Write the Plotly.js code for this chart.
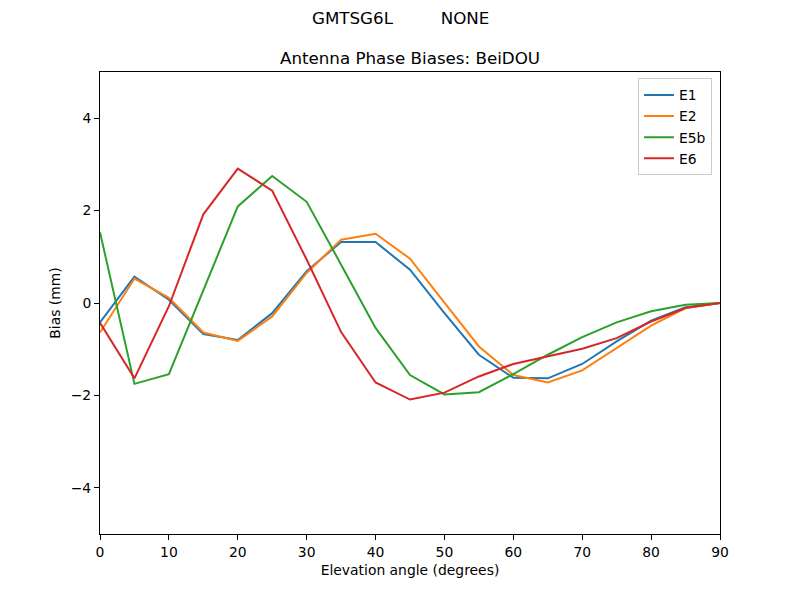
<!DOCTYPE html>
<html><head><meta charset="utf-8">
<script src="https://cdn.plot.ly/plotly-3.0.1.min.js"></script>
<style>body{margin:0;background:#fff}#c{width:800px;height:600px}</style>
</head><body><div id="c"></div>
<script>
const elev = [0,5,10,15,20,25,30,35,40,45,50,55,60,65,70,75,80,85,90];
const E1  = [-0.42,0.57,0.07,-0.67,-0.80,-0.22,0.69,1.32,1.32,0.72,-0.22,-1.12,-1.62,-1.63,-1.32,-0.83,-0.38,-0.09,0];
const E2  = [-0.64,0.53,0.11,-0.64,-0.82,-0.29,0.65,1.37,1.50,0.96,0.01,-0.94,-1.56,-1.72,-1.46,-0.98,-0.49,-0.11,0];
const E5b = [1.53,-1.75,-1.54,0.29,2.09,2.75,2.19,0.83,-0.54,-1.56,-1.98,-1.93,-1.54,-1.12,-0.74,-0.42,-0.18,-0.04,0];
const E6  = [-0.43,-1.63,-0.07,1.92,2.91,2.43,0.94,-0.63,-1.72,-2.09,-1.94,-1.59,-1.32,-1.16,-0.99,-0.76,-0.40,-0.11,0];
const names = ['E1','E2','E5b','E6'];
const series = [E1,E2,E5b,E6];
const colors = ['#1f77b4','#ff7f0e','#2ca02c','#d62728'];
const xTicks = [0,10,20,30,40,50,60,70,80,90];
const yTicks = [-4,-2,0,2,4];

const traces = series.map((s,i)=>({x:elev,y:s,name:names[i],type:'scatter',mode:'lines',line:{color:colors[i],width:2}}));
const font = {family:'DejaVu Sans',size:13.9,color:'#000'};
const layout = {
  width:800,height:600,
  margin:{l:100,r:80,t:72,b:66},
  paper_bgcolor:'#fff',plot_bgcolor:'#fff',
  font:font,
  title:{text:'Antenna Phase Biases: BeiDOU',font:{family:'DejaVu Sans',size:16.7,color:'#000'},x:0.5,xref:'paper',y:1,yref:'paper',yanchor:'bottom',pad:{b:8}},
  annotations:[{text:'GMTSG6L         NONE',xref:'paper',yref:'paper',x:(400-100)/620,y:1,yshift:42,xanchor:'center',yanchor:'bottom',showarrow:false,font:{family:'DejaVu Sans',size:16.7,color:'#000'}}],
  xaxis:{range:[0,90],tickvals:xTicks,ticks:'outside',ticklen:5,tickcolor:'#000',showgrid:false,zeroline:false,showline:true,linecolor:'#000',linewidth:1,mirror:true,
    title:{text:'Elevation angle (degrees)',font:font,standoff:6}},
  yaxis:{range:[-5,5],tickvals:yTicks,ticktext:yTicks.map(v=>v<0?'\u2212'+Math.abs(v):String(v)),ticks:'outside',ticklen:5,tickcolor:'#000',showgrid:false,zeroline:false,showline:true,linecolor:'#000',linewidth:1,mirror:true,
    title:{text:'Bias (mm)',font:font,standoff:6}},
  showlegend:true,
  legend:{x:0.987,y:0.986,xanchor:'right',yanchor:'top',bordercolor:'#ccc',borderwidth:1,bgcolor:'rgba(255,255,255,0.8)',font:font,tracegroupgap:0}
};
Plotly.newPlot('c',traces,layout,{displayModeBar:false,staticPlot:true});
</script></body></html>
